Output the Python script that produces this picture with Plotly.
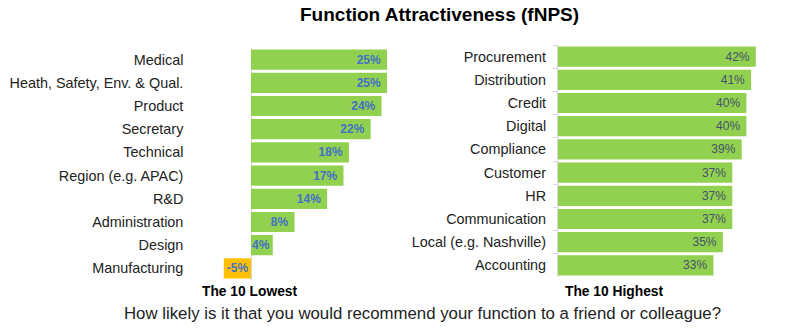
import plotly.graph_objects as go

# Data
low_cats = ["Medical", "Heath, Safety, Env. & Qual.", "Product", "Secretary", "Technical",
            "Region (e.g. APAC)", "R&D", "Administration", "Design", "Manufacturing"]
low_vals = [25, 25, 24, 22, 18, 17, 14, 8, 4, -5]
high_cats = ["Procurement", "Distribution", "Credit", "Digital", "Compliance", "Customer",
             "HR", "Communication", "Local (e.g. Nashville)", "Accounting"]
high_vals = [42, 41, 40, 40, 39, 37, 37, 37, 35, 33]

W, H = 796, 331
FONT = "Liberation Sans, Arial, sans-serif"

low_colors = ["#92D050" if v >= 0 else "#FFC000" for v in low_vals]


def lab(v):
    return f"{v}%" + ("\u00a0" if v >= 8 else "")


fig = go.Figure()
fig.add_trace(go.Bar(
    x=low_vals, y=low_cats, orientation="h", marker=dict(color=low_colors, line=dict(width=0)),
    text=[lab(v) for v in low_vals], textposition="inside", insidetextanchor="end",
    constraintext="none",
    textfont=dict(family=FONT, size=12, color="#4472C4", weight="bold"),
    xaxis="x", yaxis="y", hoverinfo="skip"))
fig.add_trace(go.Bar(
    x=high_vals, y=high_cats, orientation="h", marker=dict(color="#92D050", line=dict(width=0)),
    text=[lab(v) for v in high_vals], textposition="inside", insidetextanchor="end",
    constraintext="none",
    textfont=dict(family=FONT, size=12, color="#44546A"),
    xaxis="x2", yaxis="y2", hoverinfo="skip"))

# left panel geometry
lscale = 5.44
lzero = 251
la, lb = -6, 28
lL = lzero + la * lscale
lR = lzero + lb * lscale
# right panel geometry
rscale = 4.71
rzero = 558
ra, rb = 0, 48
rL = rzero
rR = rzero + rb * rscale

fig.update_layout(
    width=W, height=H, margin=dict(l=0, r=0, t=0, b=0),
    paper_bgcolor="white", plot_bgcolor="white", showlegend=False,
    bargap=0.13,
    font=dict(family=FONT, color="#222222"),
    xaxis=dict(domain=[lL / W, lR / W], range=[la, lb], showticklabels=False, showgrid=False,
               zeroline=True, zerolinecolor="#D9D9D9", zerolinewidth=1, fixedrange=True),
    yaxis=dict(domain=[1 - 280 / H, 1 - 48 / H], autorange="reversed", showline=False,
               ticks="", tickfont=dict(size=14.4, color="#222222"), ticklabelstandoff=34,
               anchor="x", fixedrange=True),
    xaxis2=dict(domain=[rL / W, rR / W], range=[ra, rb], showticklabels=False, showgrid=False,
                zeroline=False, anchor="y2", fixedrange=True),
    yaxis2=dict(domain=[1 - 277 / H, 1 - 45 / H], autorange="reversed", showline=True,
                linecolor="#D9D9D9", ticks="outside", ticklen=4, tickcolor="#D9D9D9",
                tickson="boundaries", tickfont=dict(size=14.4, color="#222222"),
                ticklabelstandoff=8, anchor="x2", fixedrange=True),
    annotations=[
        dict(text="<b>Function Attractiveness (fNPS)</b>", x=440 / W, y=1 - 15 / H,
             xref="paper", yref="paper", showarrow=False, font=dict(size=19, color="#000000"),
             xanchor="center", yanchor="middle"),
        dict(text="<b>The 10 Lowest</b>", x=249 / W, y=1 - 291 / H, xref="paper", yref="paper",
             showarrow=False, font=dict(size=13.8, color="#000000"), xanchor="center", yanchor="middle"),
        dict(text="<b>The 10 Highest</b>", x=614 / W, y=1 - 291 / H, xref="paper", yref="paper",
             showarrow=False, font=dict(size=13.8, color="#000000"), xanchor="center", yanchor="middle"),
        dict(text="How likely is it that you would recommend your function to a friend or colleague?",
             x=422.5 / W, y=1 - 313 / H, xref="paper", yref="paper", showarrow=False,
             font=dict(size=16.8, color="#222222"), xanchor="center", yanchor="middle"),
    ],
)

fig.write_html("out.html")
